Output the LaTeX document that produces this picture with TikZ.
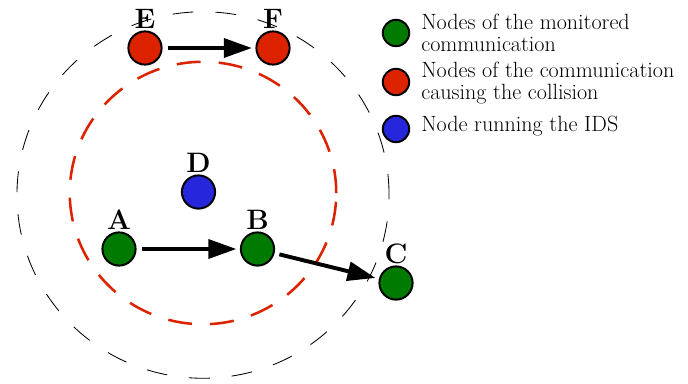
\documentclass[tikz,border=0pt]{standalone}
\usepackage{tikz}
\usetikzlibrary{arrows.meta,positioning}
\usepackage{xcolor}
\definecolor{monitored}{HTML}{007A00}
\definecolor{collision}{HTML}{DD2200}
\definecolor{ids}{HTML}{2626DD}

\begin{document}
\begin{tikzpicture}[x=0.025cm, y=-0.025cm,
  host/.style={circle, draw, line width=1.4pt, fill=#1, minimum size=0.83cm, inner sep=0pt},
  keyhost/.style={host=#1, minimum size=0.66cm},
  lbl/.style={font=\fontsize{20}{22}\selectfont\bfseries, inner sep=1pt},
  keytext/.style={anchor=west, align=left, inner sep=0pt, font=\fontsize{15.7}{15.9}\selectfont},
  arr/.style={-{Triangle[length=0.7cm,width=0.47cm]}, line width=2.8pt, shorten <=3.5pt, shorten >=2.5pt}
]
  \useasboundingbox (0,0) rectangle (688,383);

  % Ranges
  \draw[line width=0.6pt, dash pattern=on 0.52cm off 0.55cm] (203,195) ellipse[x radius=4.65cm, y radius=4.58cm];
  \draw[collision, line width=1.8pt, dash pattern=on 0.6cm off 0.45cm] (203,193) ellipse[x radius=3.33cm, y radius=3.28cm];

  % Hosts
  \node[host=collision, label={[lbl, label distance=0pt]above:E}] (e) at (145,48) {};
  \node[host=collision, label={[lbl, label distance=0pt]above:F}] (f) at (273,48) {};
  \node[host=ids,       label={[lbl, label distance=0pt]above:D}] (d) at (198.5,192) {};
  \node[host=monitored, label={[lbl, label distance=0pt]above:A}] (a) at (119,249) {};
  \node[host=monitored, label={[lbl, label distance=0pt]above:B}] (b) at (257.5,249) {};
  \node[host=monitored, label={[lbl, label distance=0pt]above:C}] (c) at (396,283) {};

  \draw[arr] (e) -- (f);
  \draw[arr] (a) -- (b);
  \draw[arr] (b) -- (c);

  % Key
  \node[keyhost=monitored] (k1) at (396,33) {};
  \node[keyhost=collision] (k2) at (396,82) {};
  \node[keyhost=ids]       (k3) at (396,129) {};
  \node[keytext] (t1) at (421,33)  {Nodes of the monitored\\communication};
  \node[keytext] (t2) at (421,83)  {Nodes of the communication\\causing the collision};
  \node[keytext] (t3) at (421,126) {Node running the IDS};
\end{tikzpicture}
\end{document}
